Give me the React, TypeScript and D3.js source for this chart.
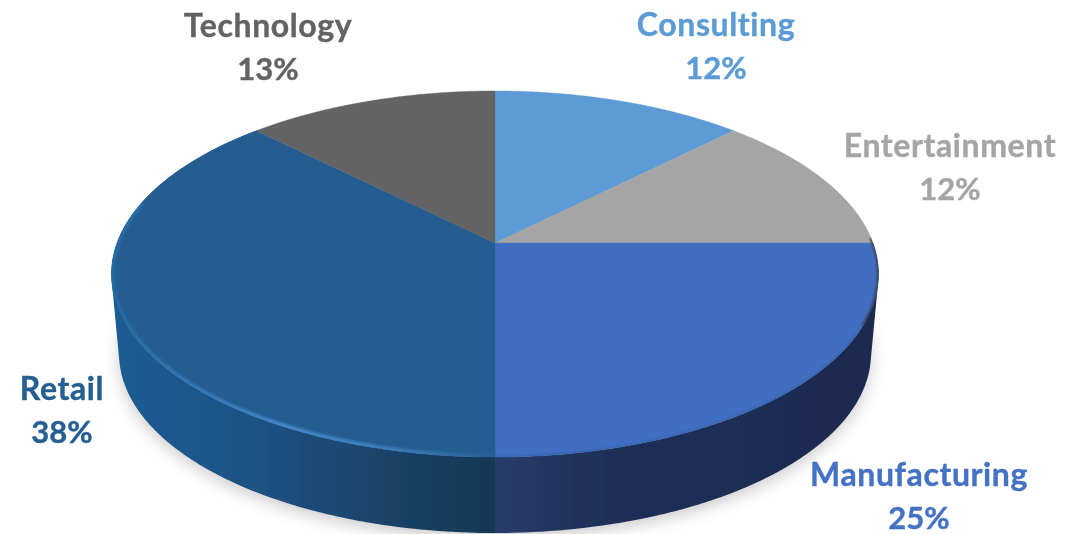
import React from "react";
import * as d3 from "d3";

const categories = ["Consulting", "Entertainment", "Manufacturing", "Retail", "Technology"];
const shares = [12.5, 12.5, 25, 37.5, 12.5];
const percentLabels = ["12%", "12%", "25%", "38%", "13%"];
const topColors = ["#5b9bd5", "#a5a5a5", "#426ec2", "#255d91", "#636363"];
const labelColors = ["#5b9bd5", "#a5a5a5", "#4472c4", "#255e91", "#636363"];
const labelAnchors: [number, number][] = [[716, 36], [950, 157], [919, 486], [62, 400], [268, 37]];

const W = 1089, H = 534;
const persp = -0.1694;

type Proj = { cx: number; cy: number; a: number; b: number };
const topFace: Proj = { cx: 495, cy: 243, a: 378, b: 177.8 };
const baseFace: Proj = { cx: 495, cy: 323.5, a: 370.5, b: 174 };

const project = (p: Proj, t: number): [number, number] => {
  const u = Math.sin(t), v = -Math.cos(t), d = 1 + persp * v;
  return [p.cx + (p.a * u) / d, p.cy + (p.b * v) / d];
};

const line = d3.line<[number, number]>().curve(d3.curveLinear);
const samples = (a0: number, a1: number, n = 120) => d3.range(n + 1).map((i) => a0 + ((a1 - a0) * i) / n);

const slicePath = (a0: number, a1: number) =>
  line([[topFace.cx, topFace.cy], ...samples(a0, a1).map((t) => project(topFace, t))])! + "Z";

const arcPath = (a0: number, a1: number) => line(samples(a0, a1).map((t) => project(topFace, t)))!;

// Sweep of small consistently-wound quads, so the outer silhouette is covered.
const sidePath = (a0: number, a1: number) => {
  const ts = samples(a0, a1, 160);
  let out = "";
  for (let i = 0; i < ts.length - 1; i++) {
    const q: [number, number][] = [
      project(topFace, ts[i]), project(topFace, ts[i + 1] + 0.004),
      project(baseFace, ts[i + 1] + 0.004), project(baseFace, ts[i]),
    ];
    if (d3.polygonArea(q) < 0) q.reverse();
    out += line(q) + "Z";
  }
  return out;
};

const fullTop = line(samples(0, Math.PI * 2, 360).map((t) => project(topFace, t)))! + "Z";
const fullBase = line(samples(0, Math.PI * 2, 360).map((t) => project(baseFace, t)))! + "Z";

export default function App() {
  const arcs = d3.pie<number>().sort(null)(shares);
  const font = "Lato, 'Open Sans', sans-serif";
  const manu = arcs[2], retail = arcs[3];
  return (
    <svg width={W} height={H} style={{ position: "absolute", left: 0, top: 0 }}>
      <defs>
        <filter id="shadow" x="-10%" y="-10%" width="120%" height="120%"><feGaussianBlur stdDeviation="8" /></filter>
        <filter id="rim" x="-5%" y="-5%" width="110%" height="110%"><feGaussianBlur stdDeviation="1.3" /></filter>
        <filter id="soft" x="-2%" y="-2%" width="104%" height="104%"><feGaussianBlur stdDeviation="0.5" /></filter>
        <clipPath id="topClip"><path d={fullTop} /></clipPath>
        <linearGradient id="retailSide" gradientUnits="userSpaceOnUse" x1="111" y1="0" x2="495" y2="0">
          <stop offset="0" stopColor="#1f5c94" />
          <stop offset="0.4" stopColor="#1d5182" />
          <stop offset="0.7" stopColor="#1a4369" />
          <stop offset="1" stopColor="#173853" />
        </linearGradient>
        <linearGradient id="manuSide" gradientUnits="userSpaceOnUse" x1="495" y1="0" x2="878" y2="0">
          <stop offset="0" stopColor="#283c6b" />
          <stop offset="0.3" stopColor="#1e2f57" />
          <stop offset="1" stopColor="#1b2b4f" />
        </linearGradient>
        <linearGradient id="retailRim" gradientUnits="userSpaceOnUse" x1="115" y1="0" x2="495" y2="0">
          <stop offset="0" stopColor="#286aa3" />
          <stop offset="0.45" stopColor="#4189cc" />
          <stop offset="0.75" stopColor="#3a7ab8" />
          <stop offset="1" stopColor="#2a5f92" />
        </linearGradient>
      </defs>

      <g filter="url(#shadow)" opacity="0.3">
        <path d={fullBase} fill="#555" transform="translate(0,5)" />
      </g>

      <g filter="url(#soft)">
        <path d={sidePath(manu.startAngle, manu.endAngle)} fill="url(#manuSide)" />
        <path d={sidePath(retail.startAngle, retail.endAngle)} fill="url(#retailSide)" />

        {arcs.map((d, i) => (
          <path key={categories[i]} d={slicePath(d.startAngle, d.endAngle)} fill={topColors[i]} stroke={topColors[i]} strokeWidth={0.4} />
        ))}

        <g clipPath="url(#topClip)">
          <path d={arcPath(retail.startAngle, retail.endAngle - 0.55)} fill="none" stroke="url(#retailRim)" strokeWidth={6.5} filter="url(#rim)" />
          <path d={arcPath(manu.startAngle - 0.03, manu.startAngle + 0.45)} fill="none" stroke="#3a3f4a" strokeWidth={3} filter="url(#rim)" />
          <path d={arcPath(manu.startAngle + 0.45, manu.endAngle)} fill="none" stroke="#3566ae" strokeWidth={3} filter="url(#rim)" />
        </g>
      </g>

      {arcs.map((_, i) => (
        <text key={categories[i]} textAnchor="middle" fontFamily={font} fontWeight={700} fill={labelColors[i]} stroke={labelColors[i]} strokeWidth={0.4} filter="url(#soft)">
          <tspan x={labelAnchors[i][0]} y={labelAnchors[i][1]} fontSize={32} letterSpacing={0.6}>{categories[i]}</tspan>
          <tspan x={labelAnchors[i][0]} y={labelAnchors[i][1] + 43} fontSize={31}>{percentLabels[i]}</tspan>
        </text>
      ))}
    </svg>
  );
}
